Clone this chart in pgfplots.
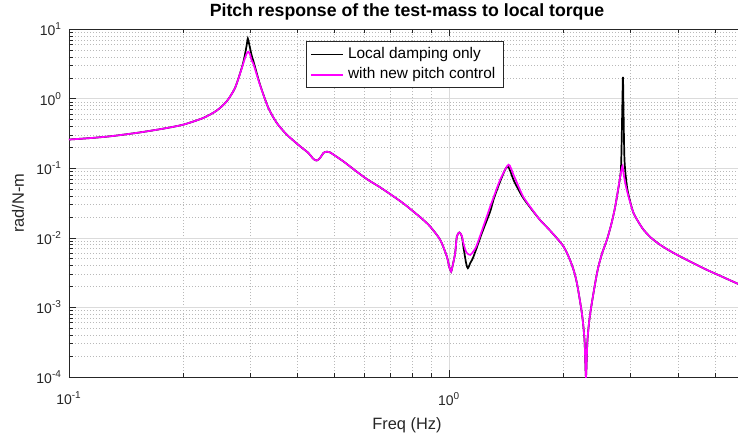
\documentclass[border=0pt]{standalone}
\usepackage{fontspec}
\setmainfont{Liberation Sans}
\usepackage{pgfplots}
\pgfplotsset{compat=1.18}
\definecolor{axgray}{gray}{0.15}
\definecolor{mag}{rgb}{1,0,1}
\begin{document}
\begin{tikzpicture}
\begin{axis}[name=ax, xmode=log, ymode=log, scale only axis,
  width=338pt, height=173.85pt,
  xmin=0.1, xmax=6, ymin=1e-4, ymax=10,
  xtick={0.1,1}, xticklabels={10\textsuperscript{-1},10\textsuperscript{0}},
  ytick={1e-4,1e-3,1e-2,1e-1,1,10},
  yticklabels={10\textsuperscript{-4},10\textsuperscript{-3},10\textsuperscript{-2},10\textsuperscript{-1},10\textsuperscript{0},10\textsuperscript{1}},
  minor xtick={0.2,0.3,0.4,0.5,0.6,0.7,0.8,0.9,2,3,4,5,6},
  minor ytick={2e-4,3e-4,4e-4,5e-4,6e-4,7e-4,8e-4,9e-4,2e-3,3e-3,4e-3,5e-3,6e-3,7e-3,8e-3,9e-3,2e-2,3e-2,4e-2,5e-2,6e-2,7e-2,8e-2,9e-2,0.2,0.3,0.4,0.5,0.6,0.7,0.8,0.9,2,3,4,5,6,7,8,9},
  grid=both,
  major grid style={gray!28, line width=0.4pt},
  minor grid style={gray!55, line width=0.4pt, dash pattern=on 0.5pt off 1pt},
  tick align=inside, major tick length=3.5pt, minor tick length=2pt,
  axis line style={axgray, line width=0.4pt},
  every tick/.style={axgray, line width=0.4pt},
  tick label style={font=\fontsize{7}{8}\selectfont, text=axgray},
  xticklabel style={yshift=-4pt},
  xlabel={Freq (Hz)}, ylabel={rad/N-m},
  xlabel style={at={(axis description cs:0.5,-0.14)}, anchor=center, font=\fontsize{8.2}{9}\selectfont, text=axgray},
  ylabel style={at={(axis description cs:-0.0754,0.5)}, anchor=center, font=\fontsize{8.2}{9}\selectfont, text=axgray},
  title={Pitch response of the test-mass to local torque},
  every axis title shift=0pt,
  title style={at={(axis description cs:0.5,1.0498)}, anchor=center, yshift=0pt, font=\bfseries\fontsize{8.85}{10}\selectfont},
  legend style={at={(axis description cs:0.3506,0.966)}, anchor=north west, draw=axgray, line width=0.4pt,
    font=\fontsize{7.7}{9}\selectfont, inner xsep=2pt, inner ysep=1pt, row sep=-1pt},
  legend cell align=left,
  legend image code/.code={\draw[#1] (0pt,0pt) -- (16pt,0pt);},
]
\addplot[black, line width=0.85pt, smooth, tension=0.45] table {
0.1 0.26
0.114 0.273
0.128 0.289
0.142 0.310
0.157 0.335
0.178 0.375
0.2 0.426
0.2256 0.532
0.2446 0.678
0.260 0.923
0.2734 1.44
0.2848 2.80
0.2892 3.9
0.2935 6.0
0.2954 7.39
0.2975 6.3
0.3027 4.1
0.3055 3.5
0.318 1.61
0.3345 0.742
0.352 0.451
0.374 0.306
0.4055 0.2075
0.4256 0.168
0.4395 0.1366
0.4485 0.130
0.4575 0.141
0.467 0.1667
0.4767 0.174
0.486 0.170
0.527 0.126
0.565 0.094
0.607 0.0703
0.66 0.053
0.714 0.0395
0.76 0.031
0.805 0.0240
0.85 0.0187
0.891 0.0146
0.947 0.0094
0.986 0.0054
1.0 0.00387
1.012 0.00328
1.02 0.00387
1.037 0.00604
1.0477 0.0105
1.064 0.01197
1.080 0.0105
1.090 0.0075
1.108 0.00434
1.120 0.00367
1.136 0.00434
1.159 0.0054
1.219 0.0117
1.282 0.024
1.308 0.0354
1.362 0.0650
1.424 0.107
1.476 0.0687
1.522 0.0493
1.569 0.0370
1.65 0.0255
1.736 0.018
1.83 0.0133
1.920 0.00993
2.0 0.0075
2.061 0.0054
2.12 0.0036
2.168 0.00223
2.234 0.000825
2.270 0.00034
2.290 0.0001
2.311 0.00034
2.35 0.000825
2.448 0.00311
2.52 0.0058
2.60 0.0094
2.67 0.0158
2.734 0.0283
2.818 0.0767
2.836 0.133
2.853 0.70
2.865 2.07
2.875 0.70
2.892 0.133
2.935 0.0551
2.99 0.034
3.055 0.0228
3.15 0.0168
3.246 0.0131
3.4 0.0100
3.59 0.00796
3.8 0.00655
4.055 0.0054
4.4 0.0043
4.765 0.00347
5.2 0.00280
5.76 0.00218
6.0 0.00197
};
\addlegendentry{Local damping only}
\addplot[mag, line width=0.85pt, smooth, tension=0.45] table {
0.1 0.26
0.114 0.273
0.128 0.289
0.142 0.310
0.157 0.335
0.178 0.375
0.2 0.426
0.2256 0.532
0.2446 0.678
0.260 0.923
0.2734 1.44
0.2848 2.75
0.2892 3.6
0.2935 4.5
0.2965 4.76
0.2995 4.3
0.3027 3.5
0.3055 3.2
0.318 1.58
0.3345 0.742
0.352 0.451
0.374 0.306
0.4055 0.2075
0.4256 0.168
0.4395 0.1366
0.4485 0.130
0.4575 0.141
0.467 0.1667
0.4767 0.174
0.486 0.170
0.527 0.126
0.565 0.094
0.607 0.0703
0.66 0.053
0.714 0.0395
0.76 0.031
0.805 0.0240
0.85 0.0187
0.891 0.0146
0.947 0.0094
0.986 0.0054
1.0 0.00387
1.012 0.00328
1.02 0.00387
1.037 0.00604
1.0477 0.0105
1.064 0.01197
1.080 0.0107
1.090 0.0084
1.110 0.0062
1.136 0.0057
1.160 0.0065
1.183 0.00796
1.256 0.0203
1.282 0.0283
1.308 0.038
1.362 0.0687
1.432 0.113
1.476 0.0811
1.522 0.0551
1.569 0.0385
1.65 0.0260
1.736 0.018
1.83 0.0133
1.920 0.00993
2.0 0.0075
2.061 0.0054
2.12 0.0036
2.168 0.00223
2.234 0.000825
2.270 0.00034
2.290 0.0001
2.311 0.00034
2.35 0.000825
2.448 0.00311
2.52 0.0058
2.60 0.0094
2.67 0.0158
2.734 0.0283
2.818 0.0767
2.845 0.100
2.858 0.109
2.875 0.085
2.905 0.0616
2.935 0.048
2.99 0.033
3.055 0.0228
3.15 0.0168
3.246 0.0131
3.4 0.0100
3.59 0.00796
3.8 0.00655
4.055 0.0054
4.4 0.0043
4.765 0.00347
5.2 0.00280
5.76 0.00218
6.0 0.00197
};
\addlegendentry{with new pitch control}
\end{axis}
\pgfresetboundingbox
\useasboundingbox ([shift={(-34.5pt,-29pt)}]ax.south west) rectangle ([shift={(-3.5pt,14.65pt)}]ax.north east);
\end{tikzpicture}
\end{document}
